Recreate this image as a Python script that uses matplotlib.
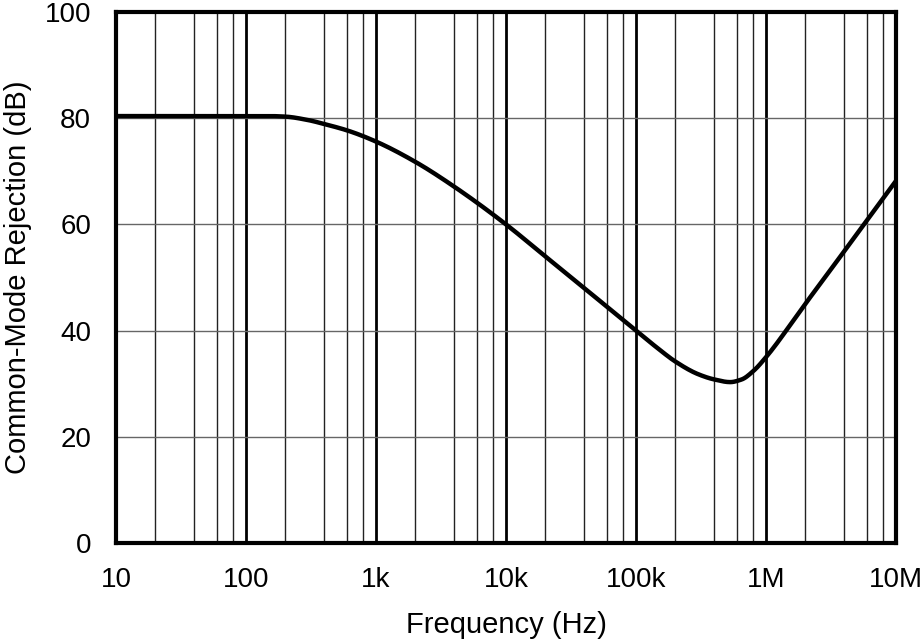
import numpy as np
import matplotlib
matplotlib.use('Agg')
import matplotlib.pyplot as plt
from matplotlib.ticker import FixedLocator, NullFormatter

plt.rcParams['font.family'] = ['Liberation Sans', 'DejaVu Sans']

# values
freq = [10, 30, 100, 150, 200, 300, 400, 600, 1e3, 2e3, 4e3, 1e4, 2e4, 4e4, 1e5, 1.5e5,
        2e5, 3e5, 4e5, 5.3e5, 6.5e5, 8e5, 1e6, 2e6, 3e6, 5e6, 8e6, 1e7]
cmr = [80.4, 80.4, 80.4, 80.4, 80.3, 79.65, 78.9, 77.7, 75.6, 71.8, 67.1, 60.0, 54.0, 48.0,
       40.0, 36.5, 34.2, 31.8, 30.8, 30.3, 30.8, 32.4, 35.0, 45.0, 50.8, 58.2, 65.0, 68.2]

xticks = [10, 100, 1e3, 1e4, 1e5, 1e6, 1e7]
xlabels = ['10', '100', '1k', '10k', '100k', '1M', '10M']
yticks = [0, 20, 40, 60, 80, 100]


def pchip(x, y, xs):
    # monotone cubic interpolation (Fritsch-Carlson)
    x = np.asarray(x, float)
    y = np.asarray(y, float)
    h = np.diff(x)
    d = np.diff(y) / h
    m = np.zeros_like(y)
    m[0], m[-1] = d[0], d[-1]
    for i in range(1, len(y) - 1):
        if d[i-1] * d[i] > 0:
            w1 = 2*h[i] + h[i-1]
            w2 = h[i] + 2*h[i-1]
            m[i] = (w1 + w2) / (w1/d[i-1] + w2/d[i])
    idx = np.clip(np.searchsorted(x, xs) - 1, 0, len(x) - 2)
    t = (xs - x[idx]) / h[idx]
    h00 = 2*t**3 - 3*t**2 + 1
    h10 = t**3 - 2*t**2 + t
    h01 = -2*t**3 + 3*t**2
    h11 = t**3 - t**2
    return h00*y[idx] + h10*h[idx]*m[idx] + h01*y[idx+1] + h11*h[idx]*m[idx+1]


fig = plt.figure(figsize=(9.22, 6.42), dpi=100)
ax = fig.add_axes([116/922, 1 - 543/642, 780/922, 531/642])

lf = np.log10(freq)
lx = np.linspace(lf[0], lf[-1], 800)
ly = pchip(lf, cmr, lx)

# grid
minors = [m * 10**d for d in range(1, 7) for m in (2, 4, 6, 8)]
for f in minors:
    ax.axvline(f, color='#222222', lw=1.0, zorder=1)
for f in xticks[1:-1]:
    ax.axvline(f, color='black', lw=2.0, zorder=1)
for y in yticks[1:-1]:
    ax.axhline(y, color='#666666', lw=1.0, zorder=1)

ax.plot(10**lx, ly, color='black', lw=3.2, zorder=3, solid_capstyle='butt')

ax.set_xscale('log')
ax.set_xlim(10, 1e7)
ax.set_ylim(0, 100)
ax.xaxis.set_major_locator(FixedLocator(xticks))
ax.set_xticklabels(xlabels)
ax.xaxis.set_minor_formatter(NullFormatter())
ax.xaxis.set_minor_locator(FixedLocator([]))
ax.set_yticks(yticks)
ax.tick_params(axis='both', length=0, labelsize=20)
ax.tick_params(axis='x', pad=17)
ax.tick_params(axis='y', pad=18)
for s in ax.spines.values():
    s.set_linewidth(3)
    s.set_zorder(4)

ax.set_xlabel('Frequency (Hz)', fontsize=21, labelpad=13)
ax.set_ylabel('Common-Mode Rejection (dB)', fontsize=21, labelpad=9)

fig.savefig('out.png', dpi=100)
